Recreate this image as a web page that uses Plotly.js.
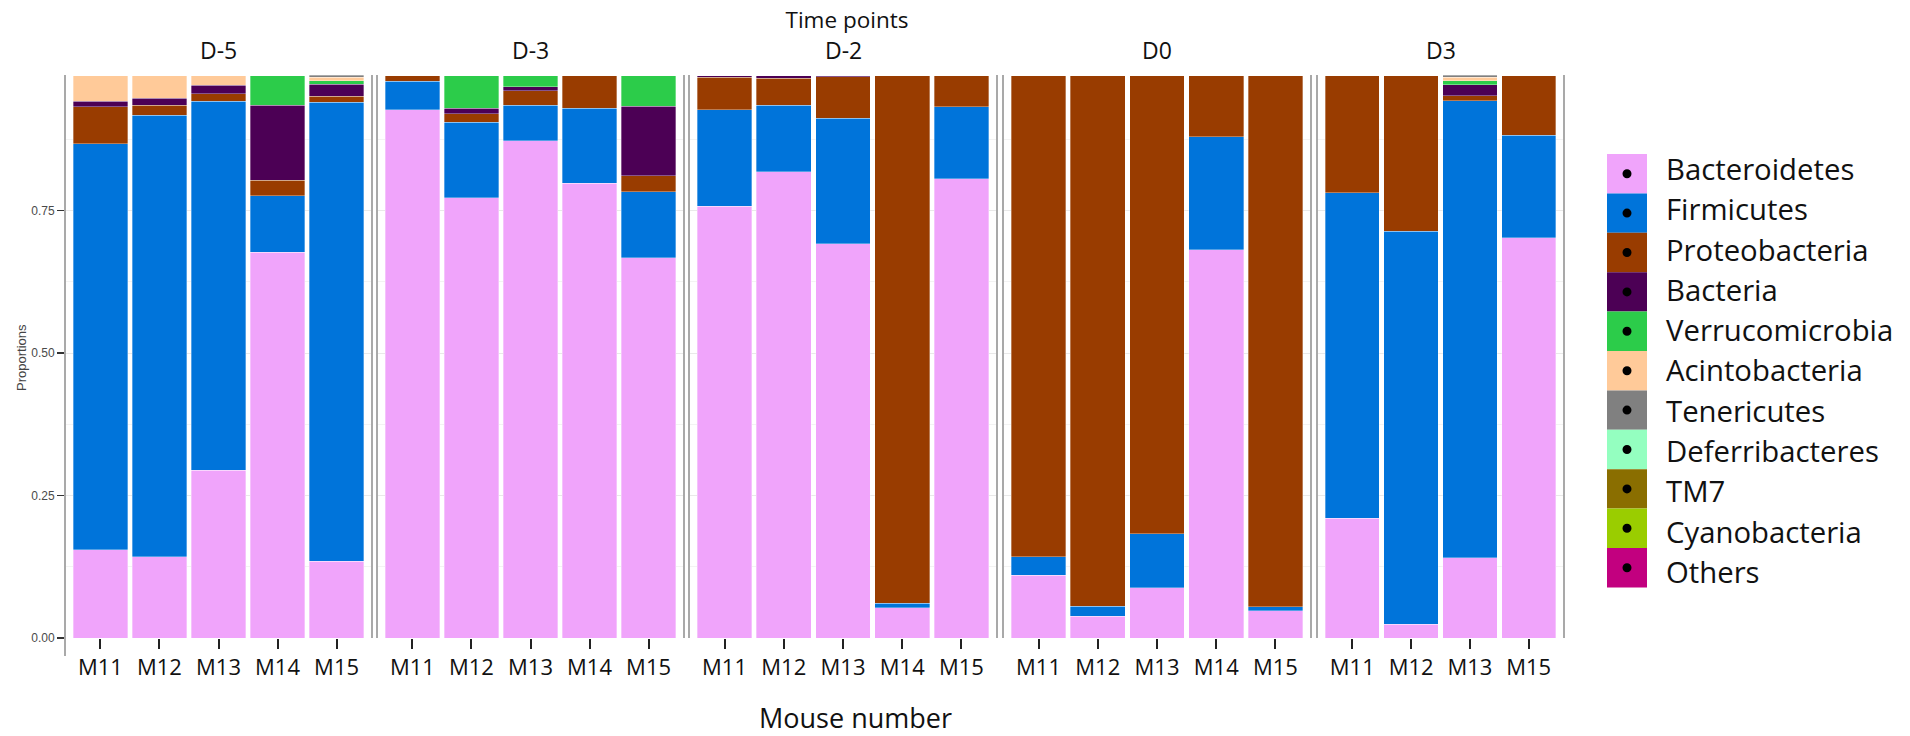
<!DOCTYPE html>
<html>
<head>
<meta charset="utf-8">
<script src="https://cdn.plot.ly/plotly-3.0.1.min.js"></script>
<style>
  html, body { margin: 0; padding: 0; background: #ffffff; }
  #chart { width: 1910px; height: 736px; }
</style>
</head>
<body>
<div id="chart"></div>
<script>
// Sampling days and the mice sampled on each day
const timePoints = ['D-5', 'D-3', 'D-2', 'D0', 'D3'];
const miceD5  = ['M11', 'M12', 'M13', 'M14', 'M15'];
const miceD3m = ['M11', 'M12', 'M13', 'M14', 'M15'];
const miceD2m = ['M11', 'M12', 'M13', 'M14', 'M15'];
const miceD0  = ['M11', 'M12', 'M13', 'M14', 'M15'];
const miceD3  = ['M11', 'M12', 'M13', 'M15'];
const mice = [miceD5, miceD3m, miceD2m, miceD0, miceD3];

const phyla = ['Bacteroidetes', 'Firmicutes', 'Proteobacteria', 'Bacteria', 'Verrucomicrobia',
               'Acintobacteria', 'Tenericutes', 'Deferribacteres', 'TM7', 'Cyanobacteria', 'Others'];
const phylumColors = ['#f0a4fb', '#0074da', '#993c00', '#4c0055', '#2ccc4a',
                      '#ffca99', '#808080', '#94ffc0', '#8a6e00', '#9acd00', '#c2007f'];

// Relative abundance per phylum; bars ordered D-5 (M11..M15), D-3, D-2, D0, D3 (M11, M12, M13, M15)
const bacteroidetes   = [0.155, 0.143, 0.294, 0.677, 0.135,  0.927, 0.773, 0.873, 0.798, 0.667,  0.758, 0.818, 0.692, 0.053, 0.806,  0.110, 0.038, 0.088, 0.681, 0.048,  0.210, 0.024, 0.141, 0.702];
const firmicutes      = [0.712, 0.774, 0.648, 0.099, 0.805,  0.050, 0.132, 0.062, 0.132, 0.116,  0.169, 0.117, 0.220, 0.008, 0.126,  0.033, 0.018, 0.095, 0.199, 0.007,  0.571, 0.690, 0.802, 0.180];
const proteobacteria  = [0.065, 0.018, 0.013, 0.027, 0.011,  0.010, 0.015, 0.025, 0.057, 0.028,  0.057, 0.047, 0.073, 0.926, 0.055,  0.844, 0.931, 0.804, 0.107, 0.932,  0.206, 0.273, 0.009, 0.105];
const bacteria        = [0.010, 0.012, 0.015, 0.132, 0.021,  0,     0.010, 0.007, 0,     0.122,  0.003, 0.005, 0.002, 0,     0,      0,     0,     0,     0,     0,      0,     0,     0.019, 0];
const verrucomicrobia = [0,     0,     0,     0.052, 0.006,  0,     0.057, 0.020, 0,     0.054,  0,     0,     0,     0,     0,      0,     0,     0,     0,     0,      0,     0,     0.007, 0];
const acintobacteria  = [0.045, 0.040, 0.017, 0,     0.006,  0,     0,     0,     0,     0,      0,     0,     0,     0,     0,      0,     0,     0,     0,     0,      0,     0,     0.006, 0];
const tenericutes     = [0,     0,     0,     0,     0.004,  0,     0,     0,     0,     0,      0,     0,     0,     0,     0,      0,     0,     0,     0,     0,      0,     0,     0.004, 0];
const deferribacteres = [0,     0,     0,     0,     0,      0,     0,     0,     0,     0,      0,     0,     0,     0,     0,      0,     0,     0,     0,     0,      0,     0,     0,     0];
const tm7             = [0,     0,     0,     0,     0,      0,     0,     0,     0,     0,      0,     0,     0,     0,     0,      0,     0,     0,     0,     0,      0,     0,     0,     0];
const cyanobacteria   = [0,     0,     0,     0,     0,      0,     0,     0,     0,     0,      0,     0,     0,     0,     0,      0,     0,     0,     0,     0,      0,     0,     0,     0];
const others          = [0,     0,     0,     0,     0,      0,     0,     0,     0,     0,      0,     0,     0,     0,     0,      0,     0,     0,     0,     0,      0,     0,     0,     0];
const proportions = [bacteroidetes, firmicutes, proteobacteria, bacteria, verrucomicrobia,
                     acintobacteria, tenericutes, deferribacteres, tm7, cyanobacteria, others];

const yTickVals = [0, 0.25, 0.5, 0.75];
const yTickText = ['0.00', '0.25', '0.50', '0.75'];

// ---- geometry (pixels) ----
const W = 1910, H = 736;
const L = 65, R = 1564, T = 75, B = 638;
const px = x => (x - L) / (R - L);
const py = y => (B - y) / (B - T);
const panels = [[65, 372], [377, 684], [689, 997], [1003, 1311], [1317, 1564]];

const traces = [];
let offset = 0;
timePoints.forEach((tp, k) => {
  const n = mice[k].length;
  const ax = k === 0 ? 'x' : 'x' + (k + 1);
  phyla.forEach((ph, j) => {
    const vals = proportions[j].slice(offset, offset + n).map(v => (v > 0 ? v : null));
    traces.push({
      type: 'bar', name: ph, x: mice[k], y: vals,
      xaxis: ax, yaxis: 'y',
      marker: { color: phylumColors[j], line: { color: 'rgba(255,255,255,0.55)', width: 0.6 } },
      showlegend: false,
      hovertemplate: tp + ' %{x}<br>' + ph + ': %{y:.3f}<extra></extra>'
    });
  });
  offset += n;
});

const layout = {
  width: W, height: H,
  margin: { l: L, r: W - R, t: T, b: H - B, pad: 0 },
  barmode: 'stack', bargap: 0.075,
  paper_bgcolor: '#ffffff', plot_bgcolor: '#ffffff',
  showlegend: false,
  font: { family: 'Open Sans, sans-serif', color: '#111111' },
  title: {
    text: 'Time points', x: 847 / W, y: 1 - 20 / H, xanchor: 'center', yanchor: 'middle',
    xref: 'container', yref: 'container',
    font: { family: 'Open Sans, sans-serif', size: 22.5, color: '#111111' }
  },
  yaxis: {
    domain: [0, 1], range: [0, 0.988], fixedrange: true,
    tickmode: 'array', tickvals: yTickVals, ticktext: yTickText,
    ticks: 'outside', ticklen: 7, tickwidth: 1.5, tickcolor: '#333333',
    tickfont: { family: 'Liberation Sans, Arial, sans-serif', size: 12, color: '#4a4a4a' },
    showgrid: true, gridcolor: '#e9e9e9', gridwidth: 1,
    minor: { dtick: 0.125, showgrid: true, gridcolor: '#f3f3f3', gridwidth: 1 },
    zeroline: false, showline: false
  },
  shapes: [],
  annotations: []
};

timePoints.forEach((tp, k) => {
  const key = k === 0 ? 'xaxis' : 'xaxis' + (k + 1);
  layout[key] = {
    domain: [px(panels[k][0]), px(panels[k][1])],
    anchor: 'y', type: 'category',
    range: [-0.6, mice[k].length - 0.4], fixedrange: true,
    showgrid: false, zeroline: false, showline: false,
    ticks: 'outside', ticklen: 10, tickwidth: 2, tickcolor: '#222222',
    tickfont: { family: 'Open Sans, sans-serif', size: 22, color: '#111111' }
  };
  // facet label
  layout.annotations.push({
    text: tp, xref: 'paper', yref: 'paper',
    x: (px(panels[k][0]) + px(panels[k][1])) / 2, y: py(50.5),
    xanchor: 'center', yanchor: 'middle', showarrow: false,
    font: { family: 'Open Sans, sans-serif', size: 23, color: '#111111' }
  });
  // panel borders
  panels[k].forEach((xp, i) => {
    const bottom = (k === 0 && i === 0) ? 656 : B;
    layout.shapes.push({
      type: 'line', xref: 'paper', yref: 'paper', layer: 'above',
      x0: px(xp), x1: px(xp), y0: py(bottom), y1: py(T),
      line: { color: '#a9a9a9', width: 2 }
    });
  });
});

// axis titles
layout.annotations.push({
  text: 'Proportions', xref: 'paper', yref: 'paper', x: px(22), y: py(358),
  xanchor: 'center', yanchor: 'middle', textangle: -90, showarrow: false,
  font: { family: 'Liberation Sans, Arial, sans-serif', size: 13, color: '#444444' }
});
layout.annotations.push({
  text: 'Mouse number', xref: 'paper', yref: 'paper', x: px(856), y: py(717),
  xanchor: 'center', yanchor: 'middle', showarrow: false,
  font: { family: 'Open Sans, sans-serif', size: 27, color: '#111111' }
});

// phylum key: stacked colour blocks with a centre dot, names to the right
const keyTop = 154, keyStep = 39.4, keyX0 = 1607, keyX1 = 1647;
const labelTop = 169, labelStep = 40.3;
phyla.forEach((ph, j) => {
  const y0 = keyTop + j * keyStep, y1 = y0 + keyStep;
  const cx = (keyX0 + keyX1) / 2, cy = (y0 + y1) / 2;
  layout.shapes.push({
    type: 'rect', xref: 'paper', yref: 'paper',
    x0: px(keyX0), x1: px(keyX1), y0: py(y1), y1: py(y0),
    fillcolor: phylumColors[j], line: { width: 0 }
  });
  layout.shapes.push({
    type: 'circle', xref: 'paper', yref: 'paper',
    x0: px(cx - 4.5), x1: px(cx + 4.5), y0: py(cy + 4.5), y1: py(cy - 4.5),
    fillcolor: '#000000', line: { width: 0 }
  });
  layout.annotations.push({
    text: ph, xref: 'paper', yref: 'paper', x: px(1664), y: py(labelTop + j * labelStep),
    xanchor: 'left', yanchor: 'middle', showarrow: false,
    font: { family: 'Open Sans, sans-serif', size: 29.3, color: '#111111' }
  });
});

Plotly.newPlot('chart', traces, layout, { displayModeBar: false, staticPlot: true });
</script>
</body>
</html>
